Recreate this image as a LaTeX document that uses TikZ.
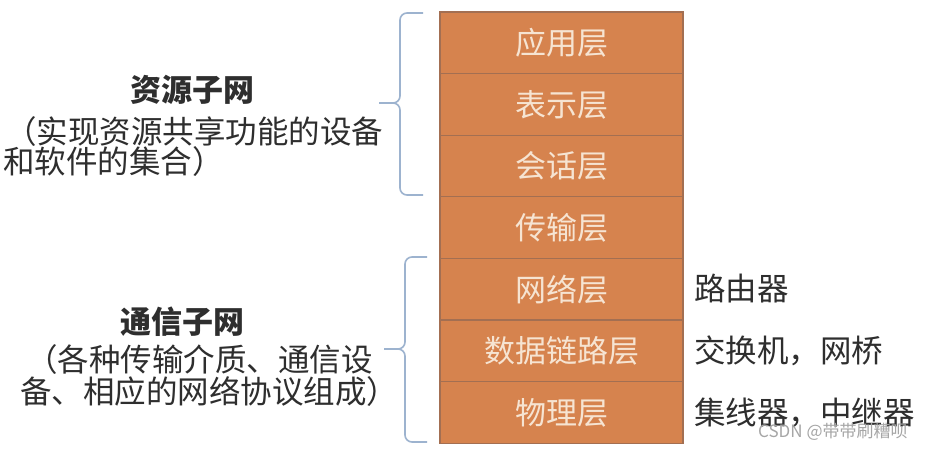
\documentclass[tikz,border=0pt]{standalone}
\usepackage{fontspec}
\newfontfamily\cjk{Noto Sans CJK SC}
\definecolor{layerfill}{HTML}{D6834E}
\definecolor{layerline}{HTML}{A36F52}
\definecolor{layertext}{HTML}{F6E4D2}
\definecolor{bracecol}{HTML}{9DB3CF}
\definecolor{sidetext}{HTML}{2E2E2E}
\tikzset{
  layer/.style={rectangle, draw=layerline, line width=1.2pt, fill=layerfill,
    minimum width=243pt, minimum height=61.57pt, inner sep=0pt,
    text=layertext, font=\cjk\fontsize{31}{35}\selectfont},
  side/.style={inner sep=0pt, text=sidetext, font=\cjk\fontsize{31.5}{35}\selectfont},
  sidebold/.style={inner sep=0pt, text=sidetext, font=\cjk\bfseries\fontsize{31}{35}\selectfont},
  bracepath/.style={draw=bracecol, line width=1.6pt, rounded corners=7pt},
}
\begin{document}
\begin{tikzpicture}[x=1pt,y=-1pt]
\useasboundingbox (0,0) rectangle (946,450);
\fill[white] (0,0) rectangle (946,450);
% layers
\node[layer] (l7) at (561.5,42.8) {应用层};
\node[layer] (l6) at (561.5,104.4) {表示层};
\node[layer] (l5) at (561.5,166.0) {会话层};
\node[layer] (l4) at (561.5,227.6) {传输层};
\node[layer] (l3) at (561.5,289.2) {网络层};
\node[layer] (l2) at (561.5,350.8) {数据链路层};
\node[layer] (l1) at (561.5,412.4) {物理层};
% right labels
\node[side, anchor=west] (r3) at (694,289) {路由器};
\node[side, anchor=west] (r2) at (694,351) {交换机，网桥};
\node[side, anchor=west] (r1) at (694,413) {集线器，中继器};
% left labels
\node[sidebold] (t1) at (192,90) {资源子网};
\node[side, anchor=west] (t1a) at (5,132) {（实现资源共享功能的设备};
\node[side, anchor=west] (t1b) at (3,162) {和软件的集合）};
\node[sidebold] (t2) at (182,322) {通信子网};
\node[side, anchor=east] (t2a) at (373,360) {（各种传输介质、通信设};
\node[side, anchor=west] (t2b) at (20,392) {备、相应的网络协议组成）};
% braces
\coordinate (b1top) at (423,13);
\coordinate (b1tip) at (379,103);
\coordinate (b1bot) at (423,195);
\draw[bracepath] (b1top) -- (400,13) -- (400,103) -- (b1tip);
\draw[bracepath] (b1tip) -- (400,103) -- (400,195) -- (b1bot);
\coordinate (b2top) at (427,257);
\coordinate (b2tip) at (384,349);
\coordinate (b2bot) at (427,442);
\draw[bracepath] (b2top) -- (405,257) -- (405,349) -- (b2tip);
\draw[bracepath] (b2tip) -- (405,349) -- (405,442) -- (b2bot);
% watermark
\node[anchor=west, inner sep=0pt, text=gray!70, font=\cjk\fontsize{17}{20}\selectfont] (wm) at (758,432) {CSDN @带带刷糟呗};
\end{tikzpicture}
\end{document}
